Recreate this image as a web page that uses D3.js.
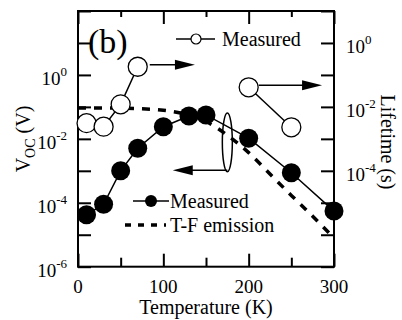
<!DOCTYPE html>
<html>
<head>
<meta charset="utf-8">
<script src="https://cdn.jsdelivr.net/npm/d3@7"></script>
<style>
  body { margin: 0; background: #fff; }
  svg { display: block; }
</style>
</head>
<body>
<div id="chart"></div>
<script>
// measured Voc (left axis) and lifetime (right axis) vs temperature
const temps = [10, 30, 50, 70, 100, 130, 150, 200, 250, 300];
const vocMeasured = [4.2e-5, 9e-5, 1e-3, 5.1e-3, 0.024, 0.052, 0.056, 0.0105, 8.7e-4, 5.5e-5];

const lifeTempsLow = [10, 30, 50, 70];
const lifeLow = [3.1e-3, 2.4e-3, 1.2e-2, 0.18];
const lifeTempsHigh = [200, 250];
const lifeHigh = [0.041, 2.3e-3];

// thermionic-field emission estimate
const tfTemps = [0, 25, 50, 75, 100, 125, 150, 175, 200, 225, 250, 275, 300];
const tfVoc = [0.093, 0.093, 0.091, 0.087, 0.079, 0.060, 0.035, 0.013, 3.7e-3, 7.9e-4, 1.7e-4, 3.8e-5, 7.9e-6];

const xMajor = [0, 100, 200, 300];
const xMinor = [50, 150, 250];
const leftExp = [-6, -5, -4, -3, -2, -1, 0, 1, 2];
const leftLabelExp = [-6, -4, -2, 0];
const rightExp = [-7, -6, -5, -4, -3, -2, -1, 0, 1];
const rightLabelExp = [-4, -2, 0];

const FONT = '"Liberation Serif", "Times New Roman", Times, "DejaVu Serif", serif';
const W = 402, H = 320;
const margin = { left: 78, right: 68, top: 11, bottom: 53.3 };
const x0 = margin.left, x1 = W - margin.right;
const y0 = H - margin.bottom, y1 = margin.top;

const svg = d3.select('#chart').append('svg')
  .attr('width', W).attr('height', H)
  .attr('font-family', FONT);

const x = d3.scaleLinear().domain([0, 300]).range([x0, x1]);
const yL = d3.scaleLog().domain([1e-6, 1e2]).range([y0, y1]);
const yR = d3.scaleLog().domain([1e-7, 1e1]).range([y0, y1]);

// axes (ticks pointing inwards)
function styleAxis(g) {
  g.select('.domain').remove();
  g.selectAll('.tick line').attr('stroke', '#000').attr('stroke-width', 2);
  g.selectAll('.tick text').remove();
}
svg.append('g').attr('transform', `translate(0,${y0})`)
  .call(d3.axisBottom(x).tickValues(xMajor).tickSize(-13)).call(styleAxis);
svg.append('g').attr('transform', `translate(0,${y0})`)
  .call(d3.axisBottom(x).tickValues(xMinor).tickSize(-9)).call(styleAxis);
svg.append('g').attr('transform', `translate(0,${y1})`)
  .call(d3.axisTop(x).tickValues(xMajor).tickSize(-13)).call(styleAxis);
svg.append('g').attr('transform', `translate(0,${y1})`)
  .call(d3.axisTop(x).tickValues(xMinor).tickSize(-6)).call(styleAxis);
svg.append('g').attr('transform', `translate(${x0},0)`)
  .call(d3.axisLeft(yL).tickValues(leftExp.map(e => Math.pow(10, e))).tickSize(-13)).call(styleAxis);
svg.append('g').attr('transform', `translate(${x1},0)`)
  .call(d3.axisRight(yR).tickValues(rightExp.map(e => Math.pow(10, e))).tickSize(-13)).call(styleAxis);

svg.append('rect')
  .attr('x', x0).attr('y', y1).attr('width', x1 - x0).attr('height', y0 - y1)
  .attr('fill', 'none').attr('stroke', '#000').attr('stroke-width', 2);

// tick labels
svg.selectAll('.xlab').data(xMajor).enter().append('text')
  .attr('x', d => x(d)).attr('y', 293)
  .attr('text-anchor', 'middle').attr('font-size', 19)
  .text(d => d);

function powLabel(sel) {
  sel.append('tspan').text('10');
  sel.append('tspan').attr('dy', -9).attr('font-size', 13).text(d => d);
}
svg.selectAll('.ylab').data(leftLabelExp).enter().append('text')
  .attr('x', 67).attr('y', d => yL(Math.pow(10, d)) + 10)
  .attr('text-anchor', 'end').attr('font-size', 19)
  .call(powLabel);
svg.selectAll('.rlab').data(rightLabelExp).enter().append('text')
  .attr('x', 346).attr('y', d => yR(Math.pow(10, d)) + 10)
  .attr('text-anchor', 'start').attr('font-size', 19)
  .call(powLabel);

// axis titles
svg.append('text')
  .attr('x', (x0 + x1) / 2).attr('y', 314)
  .attr('text-anchor', 'middle').attr('font-size', 20)
  .text('Temperature (K)');

const vt = svg.append('text')
  .attr('transform', 'translate(30,139) rotate(-90)')
  .attr('text-anchor', 'middle').attr('font-size', 20);
vt.append('tspan').text('V');
vt.append('tspan').attr('dy', 5).attr('font-size', 14).text('OC');
vt.append('tspan').attr('dy', -5).text(' (V)');

svg.append('text')
  .attr('transform', 'translate(381,142) rotate(90)')
  .attr('text-anchor', 'middle').attr('font-size', 20)
  .text('Lifetime (s)');

svg.append('text')
  .attr('x', 88).attr('y', 53)
  .attr('font-size', 34)
  .text('(b)');

// T-F emission dashed curve
const tfLine = d3.line()
  .x((d, i) => x(tfTemps[i]))
  .y(d => yL(d))
  .curve(d3.curveMonotoneX);
svg.append('path')
  .attr('d', tfLine(tfVoc))
  .attr('fill', 'none').attr('stroke', '#000')
  .attr('stroke-width', 3.5).attr('stroke-dasharray', '8,8');

// measured Voc
const vocLine = d3.line().x((d, i) => x(temps[i])).y(d => yL(d));
svg.append('path')
  .attr('d', vocLine(vocMeasured))
  .attr('fill', 'none').attr('stroke', '#000').attr('stroke-width', 1.5);
svg.selectAll('.voc').data(vocMeasured).enter().append('circle')
  .attr('cx', (d, i) => x(temps[i])).attr('cy', d => yL(d)).attr('r', 9.5)
  .attr('fill', '#000');

// measured lifetime
[[lifeTempsLow, lifeLow], [lifeTempsHigh, lifeHigh]].forEach(([ts, vs]) => {
  const ln = d3.line().x((d, i) => x(ts[i])).y(d => yR(d));
  svg.append('path')
    .attr('d', ln(vs))
    .attr('fill', 'none').attr('stroke', '#000').attr('stroke-width', 1.5);
  svg.selectAll(null).data(vs).enter().append('circle')
    .attr('cx', (d, i) => x(ts[i])).attr('cy', d => yR(d)).attr('r', 9.5)
    .attr('fill', '#fff').attr('stroke', '#000').attr('stroke-width', 1.3);
});

// arrows pointing to the axis each series belongs to
function arrow(xa, ya, xb) {
  const dir = Math.sign(xb - xa);
  svg.append('line')
    .attr('x1', xa).attr('y1', ya).attr('x2', xb - dir * 18).attr('y2', ya)
    .attr('stroke', '#000').attr('stroke-width', 1.5);
  svg.append('path')
    .attr('d', `M${xb},${ya} L${xb - dir * 20},${ya - 5} L${xb - dir * 20},${ya + 5} Z`)
    .attr('fill', '#000');
}
arrow(x(70) + 12, yR(0.18) - 2, x(137));
arrow(x(200) + 10, yR(0.041) - 2, x(286));

const ellX = x(175);
const ellTop = yL(Math.pow(10, -1.19)), ellBot = yL(Math.pow(10, -3.03));
svg.append('ellipse')
  .attr('cx', ellX).attr('cy', (ellTop + ellBot) / 2)
  .attr('rx', 5).attr('ry', (ellBot - ellTop) / 2)
  .attr('fill', 'none').attr('stroke', '#000').attr('stroke-width', 1.5);
arrow(ellX, yL(Math.pow(10, -2.98)), x(111));

// legends
svg.append('line').attr('x1', 176).attr('x2', 215).attr('y1', 39).attr('y2', 39)
  .attr('stroke', '#000').attr('stroke-width', 1.5);
svg.append('circle').attr('cx', 196).attr('cy', 39).attr('r', 5)
  .attr('fill', '#fff').attr('stroke', '#000').attr('stroke-width', 1.2);
svg.append('text').attr('x', 222).attr('y', 46).attr('font-size', 20).text('Measured');

svg.append('line').attr('x1', 133).attr('x2', 169).attr('y1', 201).attr('y2', 201)
  .attr('stroke', '#000').attr('stroke-width', 1.5);
svg.append('circle').attr('cx', 151).attr('cy', 201).attr('r', 6).attr('fill', '#000');
svg.append('text').attr('x', 170).attr('y', 208).attr('font-size', 20).text('Measured');

svg.append('line').attr('x1', 125).attr('x2', 166).attr('y1', 225).attr('y2', 225)
  .attr('stroke', '#000').attr('stroke-width', 3.5).attr('stroke-dasharray', '6,7');
svg.append('text').attr('x', 170).attr('y', 232).attr('font-size', 20).text('T-F emission');
</script>
</body>
</html>
